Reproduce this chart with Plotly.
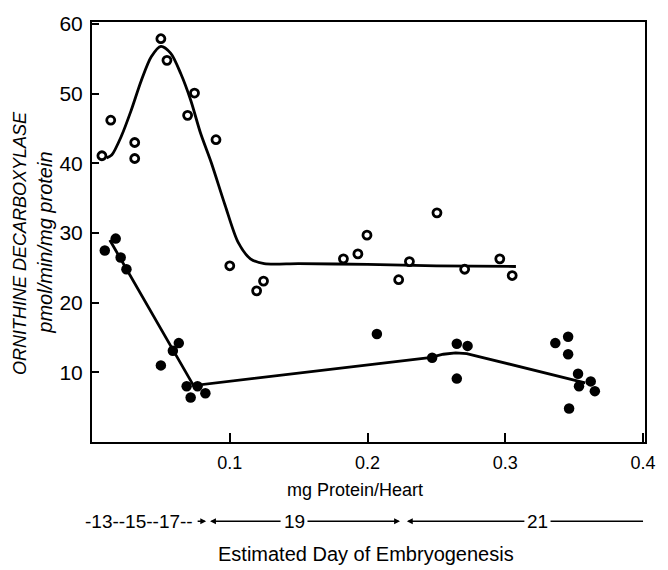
import plotly.graph_objects as go

# ---- data ----
open_x = [0.0072, 0.0136, 0.031, 0.031, 0.050, 0.0544, 0.0694, 0.0744, 0.090, 0.100,
          0.1195, 0.1245, 0.1825, 0.193, 0.1996, 0.2226, 0.2304, 0.2504, 0.2705, 0.296, 0.305]
open_y = [41.1, 46.2, 43.0, 40.7, 57.9, 54.8, 46.9, 50.1, 43.4, 25.3,
          21.7, 23.1, 26.3, 27.0, 29.7, 23.3, 25.9, 32.9, 24.8, 26.3, 23.9]

filled_x = [0.0093, 0.0172, 0.0208, 0.025, 0.050, 0.0587, 0.063, 0.0687, 0.0716, 0.0766, 0.0823,
            0.2068, 0.2469, 0.2648, 0.2726, 0.2648, 0.3363, 0.3456, 0.3456, 0.3528, 0.3535,
            0.362, 0.365, 0.3463]
filled_y = [27.5, 29.2, 26.5, 24.8, 11.0, 13.1, 14.2, 8.0, 6.4, 8.0, 7.0,
            15.5, 12.1, 14.1, 13.8, 9.1, 14.2, 15.1, 12.6, 9.8, 8.0,
            8.7, 7.3, 4.8]

open_curve_x = [0.0107, 0.0143, 0.0215, 0.0286, 0.0358, 0.043, 0.050, 0.0572, 0.0644, 0.0716,
                0.0787, 0.0866, 0.0966, 0.106, 0.115, 0.125, 0.15, 0.20, 0.25, 0.3077]
open_curve_y = [40.8, 41.2, 44.0, 47.7, 51.9, 55.3, 56.8, 55.8, 52.9, 49.1,
                44.4, 40.1, 34.0, 28.7, 26.3, 25.6, 25.6, 25.5, 25.3, 25.2]

filled_curve_x = [0.0129, 0.0737, 0.245, 0.255, 0.264, 0.272, 0.28, 0.358]
filled_curve_y = [29.0, 8.1, 12.1, 12.6, 12.8, 12.7, 12.3, 8.5]

x_tickvals = [0.1, 0.2, 0.3, 0.4]
x_ticktext = ["0.1", "0.2", "0.3", "0.4"]
y_tickvals = [10, 20, 30, 40, 50, 60]
y_ticktext = ["10", "20", "30", "40", "50", "60"]

FONT = "Liberation Sans"

# ---- layout helpers (pixel -> paper) ----
W, H = 668, 570
L, R, T, B = 92, 14, 18, 128
PW, PH = W - L - R, H - T - B


def px(xp):
    return (xp - L) / PW


def py(yp):
    return (H - B - yp) / PH


fig = go.Figure()

fig.add_trace(go.Scatter(x=open_curve_x, y=open_curve_y, mode="lines",
                         line=dict(color="black", width=2.8, shape="spline", smoothing=0.8),
                         hoverinfo="skip", showlegend=False))
fig.add_trace(go.Scatter(x=filled_curve_x, y=filled_curve_y, mode="lines",
                         line=dict(color="black", width=2.8),
                         hoverinfo="skip", showlegend=False))
fig.add_trace(go.Scatter(x=open_x, y=open_y, mode="markers",
                         marker=dict(symbol="circle", size=8, color="white",
                                     line=dict(color="black", width=2.8)),
                         showlegend=False))
fig.add_trace(go.Scatter(x=filled_x, y=filled_y, mode="markers",
                         marker=dict(symbol="circle", size=10.5, color="black",
                                     line=dict(width=0)),
                         showlegend=False))

annotations = []
# y-axis title, two lines
annotations.append(dict(text="ORNITHINE DECARBOXYLASE", textangle=-90, xref="paper", yref="paper",
                        x=px(19), y=py(241), showarrow=False, xanchor="center", yanchor="middle",
                        font=dict(family=FONT, size=18, color="#000000", style="italic")))
annotations.append(dict(text="pmol/min/mg protein", textangle=-90, xref="paper", yref="paper",
                        x=px(44), y=py(241), showarrow=False, xanchor="center", yanchor="middle",
                        font=dict(family=FONT, size=20, color="#000000", style="italic")))
# x-axis title
annotations.append(dict(text="mg Protein/Heart", xref="paper", yref="paper",
                        x=px(359), y=py(490), showarrow=False, xanchor="center", yanchor="middle",
                        font=dict(family=FONT, size=18, color="#000000")))
# day line
DAY_Y = 522
annotations.append(dict(text="-13--15--17--", xref="paper", yref="paper",
                        x=px(83), y=py(DAY_Y), showarrow=False, xanchor="left", yanchor="middle",
                        font=dict(family=FONT, size=19, color="#000000")))
annotations.append(dict(text="19", xref="paper", yref="paper",
                        x=px(298), y=py(DAY_Y), showarrow=False, xanchor="center", yanchor="middle",
                        font=dict(family=FONT, size=19, color="#000000")))
annotations.append(dict(text="21", xref="paper", yref="paper",
                        x=px(545), y=py(DAY_Y), showarrow=False, xanchor="center", yanchor="middle",
                        font=dict(family=FONT, size=19, color="#000000")))
for head, tail in [(208, 198), (212, 284), (405, 311), (412, 531)]:
    annotations.append(dict(text="", xref="paper", yref="paper", x=px(head), y=py(DAY_Y),
                            ax=tail - head, ay=0, showarrow=True, arrowhead=2, arrowsize=0.9,
                            arrowwidth=1.3, arrowcolor="black", standoff=0, startstandoff=0))
annotations.append(dict(text="Estimated Day of Embryogenesis", xref="paper", yref="paper",
                        x=px(370), y=py(555), showarrow=False, xanchor="center", yanchor="middle",
                        font=dict(family=FONT, size=20, color="#000000")))

shapes = [dict(type="line", xref="paper", yref="paper", x0=px(558), x1=px(652),
               y0=py(DAY_Y), y1=py(DAY_Y), line=dict(color="black", width=1.3))]

fig.update_layout(
    width=W, height=H,
    margin=dict(l=L, r=R, t=T, b=B, pad=0),
    paper_bgcolor="white", plot_bgcolor="white",
    showlegend=False,
    font=dict(family=FONT, color="#000000"),
    annotations=annotations,
    shapes=shapes,
    xaxis=dict(range=[0, 0.4014], tickvals=x_tickvals, ticktext=x_ticktext,
               ticks="inside", ticklen=9, tickwidth=2, tickcolor="black",
               showline=True, linecolor="black", linewidth=2, mirror=True,
               showgrid=False, zeroline=False, ticklabelstandoff=3,
               tickfont=dict(family=FONT, size=18, color="#000000")),
    yaxis=dict(range=[0, 60.3], tickvals=y_tickvals, ticktext=y_ticktext,
               ticks="inside", ticklen=7, tickwidth=2, tickcolor="black",
               showline=True, linecolor="black", linewidth=2, mirror=True,
               showgrid=False, zeroline=False, ticklabelstandoff=3,
               tickfont=dict(family=FONT, size=21, color="#000000")),
)

fig.write_html("out.html")
